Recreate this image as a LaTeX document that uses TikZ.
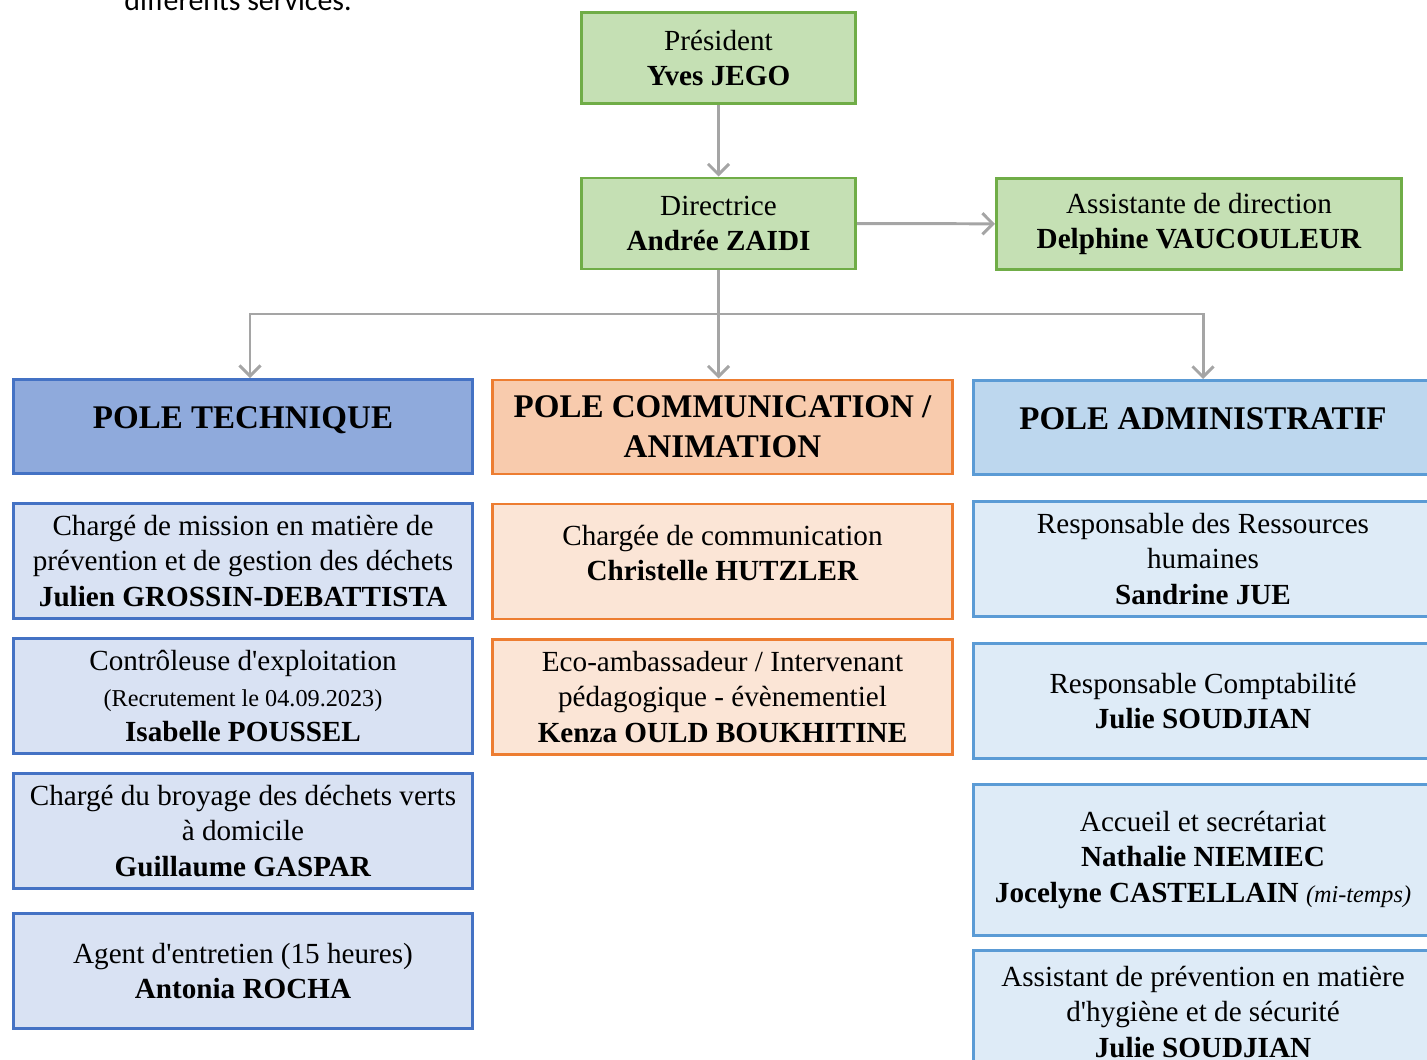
\documentclass[tikz,border=0pt]{standalone}
\usepackage{fontspec}
\setmainfont{Liberation Serif}
\newfontfamily\introfont{Carlito}
\usetikzlibrary{arrows.meta,positioning}
\definecolor{vertbord}{HTML}{70AD47}
\definecolor{vertfond}{HTML}{C5E0B4}
\definecolor{bleubord}{HTML}{4472C4}
\definecolor{bleufond}{HTML}{8FAADC}
\definecolor{bleupale}{HTML}{D9E2F3}
\definecolor{orbord}{HTML}{ED7D31}
\definecolor{orfond}{HTML}{F8CBAD}
\definecolor{orpale}{HTML}{FBE5D6}
\definecolor{ciel}{HTML}{5B9BD5}
\definecolor{cielfond}{HTML}{BDD7EE}
\definecolor{cielpale}{HTML}{DEEBF7}
\definecolor{fleche}{HTML}{A5A5A5}

\begin{document}
\begin{tikzpicture}
	[x=0.02cm,y=-0.02cm,
	every node/.style={shape=rectangle,inner sep=0pt,align=center,line width=1.7pt,
		font=\fontsize{16.6}{20.1}\selectfont},
	cadre/.style 2 args={minimum width=#1*0.02cm,minimum height=#2*0.02cm},
	chef/.style={draw=vertbord,fill=vertfond,cadre={274}{91}},
	titre/.style={cadre={459}{94},font=\fontsize{18.8}{22.7}\selectfont\bfseries},
	ligne/.style={text height=10pt,text depth=7.3pt},
	tech/.style={draw=bleubord,fill=bleupale,cadre={459}{115}},
	comm/.style={draw=orbord,fill=orpale,cadre={460}{115}},
	admin/.style={draw=ciel,fill=cielpale,cadre={460}{115}},
	lien/.style={draw=fleche,line width=1.7pt},
	conn/.style={lien,-{Straight Barb[length=6pt,width=12pt]}}]

	\clip (0,0) rectangle (1427,1060);

	\node[anchor=base west,font=\introfont\fontsize{17}{20}\selectfont] (intro) at (123,11) {différents services.};

	\node[chef] (pres) at (718.5,58) {Président\\\textbf{Yves JEGO}};
	\node[chef] (dir) at (718.5,223.5) {Directrice\\\textbf{Andrée ZAIDI}};
	\node[chef,cadre={405}{91}] (assist) at (1199,224) {Assistante de direction\\\textbf{Delphine VAUCOULEUR}};

	\node[titre,ligne,draw=bleubord,fill=bleufond] (ptech) at (243,426.5) {POLE TECHNIQUE};
	\node[titre,draw=orbord,fill=orfond,cadre={460}{94}] (pcomm) at (722.5,427) {POLE COMMUNICATION /\\ANIMATION};
	\node[titre,ligne,draw=ciel,fill=cielfond,cadre={460}{94}] (padmin) at (1203,427.5) {POLE ADMINISTRATIF};

	\node[tech] (t1) at (243,561) {Chargé de mission en matière de\\prévention et de gestion des déchets\\\textbf{Julien GROSSIN-DEBATTISTA}};
	\node[tech] (t2) at (243,696) {Contrôleuse d\textquotesingle exploitation\\{\fontsize{13.8}{20.1}\selectfont(Recrutement le 04.09.2023)}\\\textbf{Isabelle POUSSEL}};
	\node[tech] (t3) at (243,831) {Chargé du broyage des déchets verts\\à domicile\\\textbf{Guillaume GASPAR}};
	\node[tech] (t4) at (243,971) {Agent d\textquotesingle entretien (15 heures)\\\textbf{Antonia ROCHA}};

	\node[comm] (c1) at (722.5,561.5) {Chargée de communication\\\textbf{Christelle HUTZLER}\\[-10.5pt]\mbox{}};
	\node[comm] (c2) at (722.5,697) {Eco-ambassadeur / Intervenant\\pédagogique - évènementiel\\\textbf{Kenza OULD BOUKHITINE}};

	\node[admin] (a1) at (1203,559) {Responsable des Ressources\\humaines\\\textbf{Sandrine JUE}};
	\node[admin] (a2) at (1203,701) {Responsable Comptabilité\\\textbf{Julie SOUDJIAN}};
	\node[admin,cadre={460}{151}] (a3) at (1203,860) {Accueil et secrétariat\\\textbf{Nathalie NIEMIEC}\\\textbf{Jocelyne CASTELLAIN} {\fontsize{13.8}{20.1}\selectfont\itshape(mi-temps)}};
	\node[admin,cadre={460}{123}] (a4) at (1203,1012) {Assistant de prévention en matière\\d\textquotesingle hygiène et de sécurité\\\textbf{Julie SOUDJIAN}};

	\path
	\foreach \startNode/\endNode in {pres/dir,dir/assist}{
		(\startNode) edge[conn] (\endNode)
	};

	\coordinate (split) at (718.5,314);
	\draw[lien] (dir) -- (split);
	\draw[conn] (split) -| ([xshift=0.14cm]ptech.north);
	\draw[conn] (split) -- (split |- pcomm.north);
	\draw[conn] (split) -| (padmin.north);
\end{tikzpicture}
\end{document}
